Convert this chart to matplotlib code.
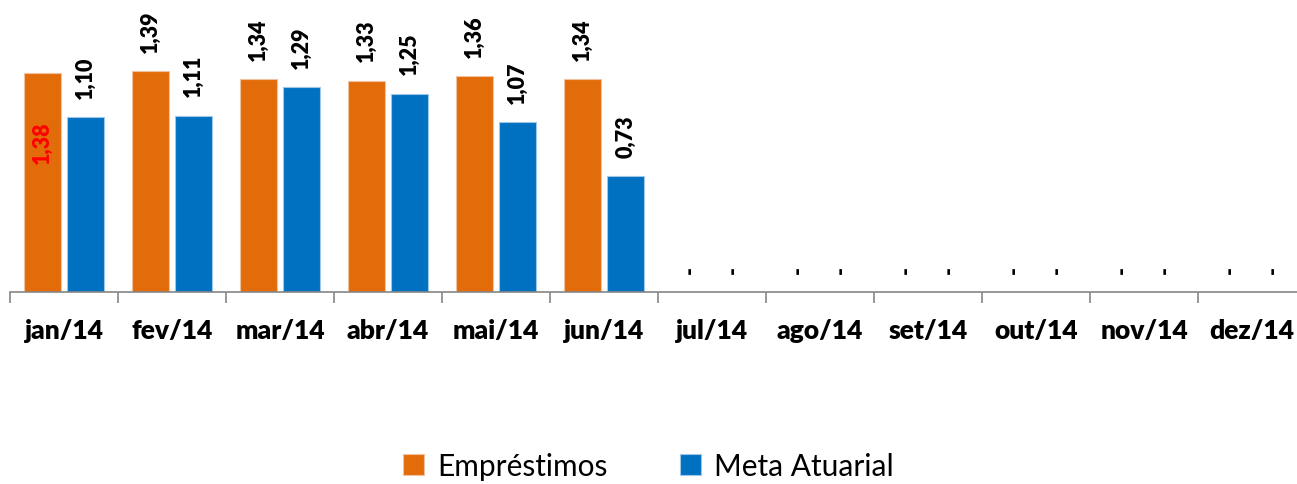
import numpy as np
import matplotlib
matplotlib.use("Agg")
import matplotlib.pyplot as plt

plt.rcParams['font.family'] = ['Lato', 'DejaVu Sans']

months = ['jan/14', 'fev/14', 'mar/14', 'abr/14', 'mai/14', 'jun/14',
          'jul/14', 'ago/14', 'set/14', 'out/14', 'nov/14', 'dez/14']
emprestimos = [1.38, 1.39, 1.34, 1.33, 1.36, 1.34, np.nan, np.nan, np.nan, np.nan, np.nan, np.nan]
meta = [1.10, 1.11, 1.29, 1.25, 1.07, 0.73, np.nan, np.nan, np.nan, np.nan, np.nan, np.nan]

orange = '#E36C0A'
blue = '#0070C0'

fig = plt.figure(figsize=(12.97, 4.85), dpi=100)
ax = fig.add_axes([10 / 1297, 192 / 485, 1296 / 1297, 293 / 485])

x = np.arange(len(months))
w = 0.343
e = np.nan_to_num(emprestimos)
m = np.nan_to_num(meta)
b1 = ax.bar(x - 0.2, e, w, color=orange, edgecolor='#f2c19e', linewidth=0.8, label='Empréstimos')
b2 = ax.bar(x + 0.2, m, w, color=blue, edgecolor='#9ec8ea', linewidth=0.8, label='Meta Atuarial')


def fmt(v):
    return '-' if np.isnan(v) else f'{v:.2f}'.replace('.', ',')


lab = dict(rotation=90, fontsize=15.5, fontweight='heavy')
for i, v in enumerate(emprestimos):
    if i == 0:
        # first label sits inside the bar in red
        ax.text(x[i] - 0.2, 0.95, fmt(v), ha='center', va='center', color='red', **lab)
    else:
        ax.annotate(fmt(v), (x[i] - 0.2, e[i]), xytext=(0, 14), textcoords='offset points',
                    ha='center', va='bottom', **lab)
for i, v in enumerate(meta):
    ax.annotate(fmt(v), (x[i] + 0.2, m[i]), xytext=(0, 14), textcoords='offset points',
                ha='center', va='bottom', **lab)

ax.set_xlim(-0.5, len(months) - 0.5)
ax.set_ylim(0, 1.846)
ax.set_yticks([])
for s in ['top', 'right', 'left']:
    ax.spines[s].set_visible(False)
ax.spines['bottom'].set_color('#868686')
ax.spines['bottom'].set_linewidth(1.2)

ax.set_xticks(x - 0.5, minor=True)
ax.tick_params(axis='x', which='minor', length=8, color='#868686', width=1.2)
ax.set_xticks(x)
ax.set_xticklabels(months, fontsize=19, fontweight='heavy')
ax.tick_params(axis='x', which='major', length=0, pad=19)

fig.legend(handles=[b1, b2], loc='center', bbox_to_anchor=(0.5, 0.037), ncol=2,
           frameon=False, fontsize=21.5, handlelength=0.7, handleheight=0.7,
           handletextpad=0.45, columnspacing=2.4)

fig.savefig('out.png', dpi=100)
